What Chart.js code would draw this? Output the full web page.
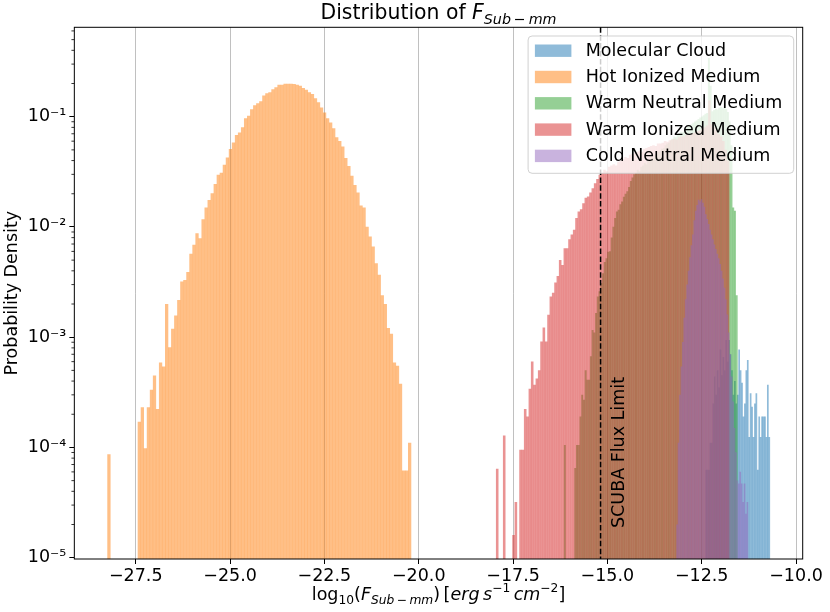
<!DOCTYPE html>
<html>
<head>
<meta charset="utf-8">
<title>Distribution of F Sub-mm</title>
<script src="https://cdn.jsdelivr.net/npm/chart.js@4.4.1/dist/chart.umd.min.js"></script>
<style>
  html, body { margin: 0; padding: 0; background: #fff; }
  #wrap { width: 830px; height: 612px; }
</style>
</head>
<body>
<div id="wrap"><canvas id="chart" width="830" height="612"></canvas></div>
<script>
// axis limits and tick labels
const xMin = -29.127, xMax = -9.823;
const xTicks = [-27.5, -25.0, -22.5, -20.0, -17.5, -15.0, -12.5, -10.0];
const yMin = 9.73e-6, yMax = 0.647;
const yTicks = [1e-5, 1e-4, 1e-3, 1e-2, 1e-1];
const scubaLimit = -15.18;

const seriesNames = ['Molecular Cloud', 'Hot Ionized Medium', 'Warm Neutral Medium', 'Warm Ionized Medium', 'Cold Neutral Medium'];

// each histogram: left edge of first bin, bin width, density per bin (null = empty bin)
const molecularStart = -12.40, molecularWidth = 0.038;
const molecularCloud = [
  6.25e-5, 6.25e-5, 6.25e-5, 1.1e-4, 1.1e-4, 2.5e-4, 4.4e-4, 3.0e-4, 5.0e-4, 3.5e-4,
  7.7e-4, 4.5e-4, 6.6e-4, 5.0e-4, 9.4e-4, 6.0e-4, 9.4e-4, 7.0e-4, 5.0e-4, 3.0e-4,
  4.0e-4, 2.5e-4, 3.0e-4, 7.7e-4, 5.0e-4, 3.85e-4, 1.9e-4, 2.5e-4, 5.0e-4, 6.2e-4,
  1.24e-4, 3.1e-4, 2.33e-4, 1.24e-4, 2.5e-4, 3.1e-4, 6.25e-5, 1.9e-4, 1.24e-4, 1.9e-4,
  1.9e-4, 1.9e-4, 1.24e-4, 3.7e-4, 1.24e-4
];

const hotStart = -28.25, hotWidth = 0.0805;
const hotIonized = [
  8.67e-5, null, null, null, null, null, null, null, null, null,
  1.71e-4, 2.31e-4, 9.8e-5, 2.31e-4, 3.32e-4, 4.48e-4, 2.23e-4, 5.87e-4, 5.40e-4, 2.0e-3,
  8.1e-4, 1.19e-3, 1.57e-3, 2.17e-3, 3.19e-3, 3.30e-3, 3.90e-3, 5.69e-3, 6.86e-3, 8.75e-3,
  7.89e-3, 0.0117, 0.0150, 0.0175, 0.0202, 0.0244, 0.0296, 0.0310, 0.0365, 0.0425,
  0.0509, 0.0581, 0.0682, 0.0716, 0.0801, 0.0967, 0.1015, 0.1167, 0.1268, 0.1323,
  0.138, 0.155, 0.163, 0.166, 0.177, 0.185, 0.194, 0.194, 0.199, 0.199,
  0.199, 0.197, 0.194, 0.190, 0.182, 0.175, 0.166, 0.160, 0.147, 0.135,
  0.121, 0.109, 0.0967, 0.0883, 0.0785, 0.0651, 0.0602, 0.0535, 0.0420, 0.0357,
  0.0290, 0.0240, 0.0205, 0.0156, 0.0150, 0.0100, 8.16e-3, 6.62e-3, 4.68e-3, 3.67e-3,
  2.40e-3, 2.0e-3, 1.21e-3, 1.07e-3, 5.87e-4, 5.48e-4, 3.77e-4, 6.15e-5, 6.15e-5, 1.10e-4
];

const warmNeutralStart = -16.15, warmNeutralWidth = 0.046;
const warmNeutral = [
  1.05e-4, null, null, null, null, null, 6.5e-5, 1.05e-4, 1.05e-4, 1.9e-4,
  3.0e-4, 2.7e-4, 5.0e-4, 4.1e-4, 4.1e-4, 6.7e-4, 1.16e-3, 1.1e-3, 1.65e-3, 2.33e-3,
  2.6e-3, 3.1e-3, 3.8e-3, 4.8e-3, 5.2e-3, 5.95e-3, 6.0e-3, 8.0e-3, 0.010, 0.012,
  0.0138, 0.0143, 0.016, 0.017, 0.0187, 0.020, 0.021, 0.023, 0.026, 0.028,
  0.030, 0.031, 0.033, 0.032, 0.035, 0.036, 0.038, 0.037, 0.040, 0.041,
  0.043, 0.042, 0.045, 0.046, 0.048, 0.049, 0.051, 0.052, 0.055, 0.057,
  0.058, 0.061, 0.063, 0.066, 0.065, 0.069, 0.071, 0.073, 0.072, 0.076,
  0.079, 0.082, 0.081, 0.085, 0.088, 0.090, 0.092, 0.095, 0.098, 0.100,
  0.103, 0.106, 0.108, 0.34, 0.19, 0.112, 0.115, 0.118, 0.116, 0.120,
  0.122, 0.119, 0.121, 0.117, 0.110, 0.090, 0.055, 0.015, 0.014, 2.4e-3
];

const warmIonizedStart = -17.95, warmIonizedWidth = 0.0618;
const warmIonized = [
  6.4e-5, null, null, 1.28e-4, null, null, null, 1.6e-5, 3.2e-5, null,
  9.5e-5, 9.5e-5, 2.23e-4, 1.9e-4, 3.4e-4, 6.0e-4, 3.7e-4, 4.2e-4, 5.0e-4, 9.1e-4,
  1.22e-3, 9.1e-4, 1.59e-3, 2.33e-3, 2.53e-3, 3.12e-3, 3.59e-3, 5.0e-3, 4.5e-3, 6.4e-3,
  6.4e-3, 7.7e-3, 8.5e-3, 9.4e-3, 0.012, 0.0138, 0.0144, 0.0164, 0.0184, 0.0188,
  0.0205, 0.0224, 0.0249, 0.0271, 0.0296, 0.031, 0.033, 0.032, 0.035, 0.036,
  0.037, 0.036, 0.039, 0.040, 0.041, 0.043, 0.042, 0.045, 0.046, 0.047,
  0.048, 0.049, 0.048, 0.051, 0.052, 0.053, 0.054, 0.055, 0.054, 0.057,
  0.057, 0.058, 0.060, 0.059, 0.061, 0.062, 0.063, 0.062, 0.065, 0.066,
  0.066, 0.068, 0.069, 0.070, 0.071, 0.072, 0.074, 0.075, 0.078, 0.080,
  0.083, 0.14, 0.085, 0.080, 0.075, 0.070, 0.066, 0.060, 0.050, 0.040
];

const coldStart = -13.17, coldWidth = 0.038;
const coldNeutral = [
  2.0e-5, 1.1e-4, 3.0e-4, 5.4e-4, 9.0e-4, 1.5e-3, 2.2e-3, 3.0e-3, 4.0e-3, 5.3e-3,
  6.8e-3, 8.5e-3, 0.0115, 0.0140, 0.0158, 0.0176, 0.0170, 0.0178, 0.0165, 0.0152,
  0.0130, 0.0118, 0.0106, 0.0094, 0.0085, 0.0077, 0.0069, 0.0063, 0.0057, 0.0052,
  0.0046, 0.0040, 0.0034, 0.0028, 0.0022, 0.0016, 0.0011, 7.0e-4, 4.4e-4, 2.6e-4,
  1.5e-4, 9.0e-5, 5.0e-5, 4.7e-5, 6.0e-5, 4.7e-5, 3.2e-5, 4.7e-5, 2.5e-5, 3.2e-5
];

const colors = ['rgba(31,119,180,0.5)', 'rgba(255,127,14,0.5)', 'rgba(44,160,44,0.5)', 'rgba(214,39,40,0.5)', 'rgba(148,103,189,0.5)'];
const FONT = '"DejaVu Sans", "Liberation Sans", sans-serif';

function toBins(start, width, values) {
  return values.map((v, i) => ({ x: start + (i + 0.5) * width, y: v }));
}

function fmtTick(v) {
  return v.toFixed(1).replace('-', '\u2212');
}

const sup = { '-': '\u207B', '1': '\u00B9', '2': '\u00B2', '3': '\u00B3', '4': '\u2074', '5': '\u2075' };
function fmtPow(v) {
  const e = Math.round(Math.log10(v));
  return '10' + String(e).split('').map(c => sup[c]).join('');
}

// draw a row of text pieces (mathtext-like sub/superscripts) centred on cx
function drawRuns(ctx, runs, cx, baseline) {
  let total = 0;
  runs.forEach(r => {
    ctx.font = (r.italic ? 'italic ' : '') + r.size + 'px ' + FONT;
    r.w = ctx.measureText(r.t).width;
    total += r.w;
  });
  let x = cx - total / 2;
  ctx.textAlign = 'left';
  ctx.textBaseline = 'alphabetic';
  runs.forEach(r => {
    ctx.font = (r.italic ? 'italic ' : '') + r.size + 'px ' + FONT;
    ctx.fillText(r.t, x, baseline + (r.dy || 0));
    x += r.w;
  });
}

const overlay = {
  id: 'overlay',
  afterDraw(chart) {
    const { ctx, chartArea: a, scales } = chart;
    ctx.save();
    ctx.fillStyle = '#000';
    ctx.strokeStyle = '#000';

    // minor ticks of the log axis
    ctx.lineWidth = 0.8;
    for (let e = -6; e <= 0; e++) {
      for (let m = 2; m <= 9; m++) {
        const v = m * Math.pow(10, e);
        if (v <= yMin || v >= yMax) continue;
        const py = scales.y.getPixelForValue(v);
        ctx.beginPath();
        ctx.moveTo(a.left - 2.9, py);
        ctx.lineTo(a.left, py);
        ctx.stroke();
      }
    }

    // SCUBA limit
    const sx = scales.x.getPixelForValue(scubaLimit);
    ctx.lineWidth = 1.5;
    ctx.setLineDash([5.5, 2.4]);
    ctx.beginPath();
    ctx.moveTo(sx, a.top);
    ctx.lineTo(sx, a.bottom);
    ctx.stroke();
    ctx.setLineDash([]);

    ctx.save();
    ctx.translate(sx + 19, a.bottom - 31);
    ctx.rotate(-Math.PI / 2);
    ctx.font = '17.5px ' + FONT;
    ctx.textAlign = 'left';
    ctx.textBaseline = 'middle';
    ctx.fillText('SCUBA Flux Limit', 0, 0);
    ctx.restore();

    // spines
    ctx.lineWidth = 1;
    ctx.strokeRect(a.left, a.top, a.right - a.left, a.bottom - a.top);

    // legend box
    const bw = 265.6, bh = 137.3;
    const bx = a.right - 9 - bw, by = a.top + 8.7;
    ctx.beginPath();
    ctx.roundRect(bx, by, bw, bh, 4);
    ctx.fillStyle = 'rgba(255,255,255,0.8)';
    ctx.fill();
    ctx.strokeStyle = 'rgba(204,204,204,0.9)';
    ctx.lineWidth = 1;
    ctx.stroke();
    ctx.font = '17.5px ' + FONT;
    ctx.textAlign = 'left';
    ctx.textBaseline = 'middle';
    seriesNames.forEach((name, i) => {
      const cy = by + 14.7 + i * 26.3;
      ctx.fillStyle = colors[i];
      ctx.fillRect(bx + 6.8, cy - 6.2, 36.5, 12.4);
      ctx.fillStyle = '#000';
      ctx.fillText(name, bx + 57.6, cy + 0.5);
    });

    // title
    ctx.fillStyle = '#000';
    const cx = (a.left + a.right) / 2;
    drawRuns(ctx, [
      { t: 'Distribution of ', size: 20.4 },
      { t: 'F', size: 20.4, italic: true },
      { t: 'Sub\u2009\u2212\u2009mm', size: 14.3, italic: true, dy: 4.5 }
    ], cx, a.top - 8);

    // x axis label
    drawRuns(ctx, [
      { t: 'log', size: 17.5 },
      { t: '10', size: 12.25, dy: 4.5 },
      { t: '(', size: 17.5 },
      { t: 'F', size: 17.5, italic: true },
      { t: 'Sub\u2009\u2212\u2009mm', size: 12.25, italic: true, dy: 4.5 },
      { t: ')\u2009[', size: 17.5 },
      { t: 'erg\u2009s', size: 17.5, italic: true },
      { t: '\u22121', size: 12.25, dy: -8 },
      { t: '\u2009cm', size: 17.5, italic: true },
      { t: '\u22122', size: 12.25, dy: -8 },
      { t: ']', size: 17.5 }
    ], cx, a.bottom + 40.5);

    ctx.restore();
  }
};

function hiddenX() {
  return { type: 'linear', axis: 'x', display: false, min: xMin, max: xMax, bounds: 'data', offset: false, grid: { offset: false } };
}

Chart.defaults.font.family = FONT;
Chart.defaults.color = '#000';

new Chart(document.getElementById('chart').getContext('2d'), {
  type: 'bar',
  data: {
    datasets: [
      { label: seriesNames[0], data: toBins(molecularStart, molecularWidth, molecularCloud), backgroundColor: colors[0], xAxisID: 'xb', order: 5 },
      { label: seriesNames[1], data: toBins(hotStart, hotWidth, hotIonized), backgroundColor: colors[1], xAxisID: 'x', order: 4 },
      { label: seriesNames[2], data: toBins(warmNeutralStart, warmNeutralWidth, warmNeutral), backgroundColor: colors[2], xAxisID: 'xg', order: 3 },
      { label: seriesNames[3], data: toBins(warmIonizedStart, warmIonizedWidth, warmIonized), backgroundColor: colors[3], xAxisID: 'xr', order: 2 },
      { label: seriesNames[4], data: toBins(coldStart, coldWidth, coldNeutral), backgroundColor: colors[4], xAxisID: 'xp', order: 1 }
    ]
  },
  options: {
    responsive: false,
    animation: false,
    layout: { padding: { left: 0, top: 27.3, right: 27.3, bottom: 0 } },
    datasets: {
      bar: { grouped: false, barPercentage: 1, categoryPercentage: 1, borderWidth: 0, inflateAmount: 0.12 }
    },
    plugins: {
      legend: { display: false },
      tooltip: { enabled: false },
      title: { display: false }
    },
    scales: {
      x: {
        type: 'linear',
        position: 'bottom',
        min: xMin,
        max: xMax,
        bounds: 'data',
        offset: false,
        z: 1,
        afterBuildTicks: s => { s.ticks = xTicks.map(v => ({ value: v })); },
        afterFit: s => { s.height = 53; },
        ticks: { callback: v => fmtTick(v), font: { size: 17.5 }, color: '#000', padding: 2, maxRotation: 0, autoSkip: false },
        grid: { offset: false, color: '#b0b0b0', lineWidth: 0.8, tickColor: '#000', tickLength: 5, tickWidth: 1 },
        border: { display: false }
      },
      xb: hiddenX(),
      xg: hiddenX(),
      xr: hiddenX(),
      xp: hiddenX(),
      y: {
        type: 'logarithmic',
        min: yMin,
        max: yMax,
        bounds: 'data',
        afterBuildTicks: s => { s.ticks = yTicks.map(v => ({ value: v })); },
        afterFit: s => { s.width = 74.33; },
        ticks: { callback: v => fmtPow(v), font: { size: 17.5 }, color: '#000', padding: 3 },
        grid: { drawOnChartArea: false, tickColor: '#000', tickLength: 5, tickWidth: 1 },
        border: { display: false },
        title: { display: true, text: 'Probability Density', font: { size: 17.5 }, color: '#000', padding: { top: 2, bottom: 0 } }
      }
    }
  },
  plugins: [overlay]
});
</script>
</body>
</html>
